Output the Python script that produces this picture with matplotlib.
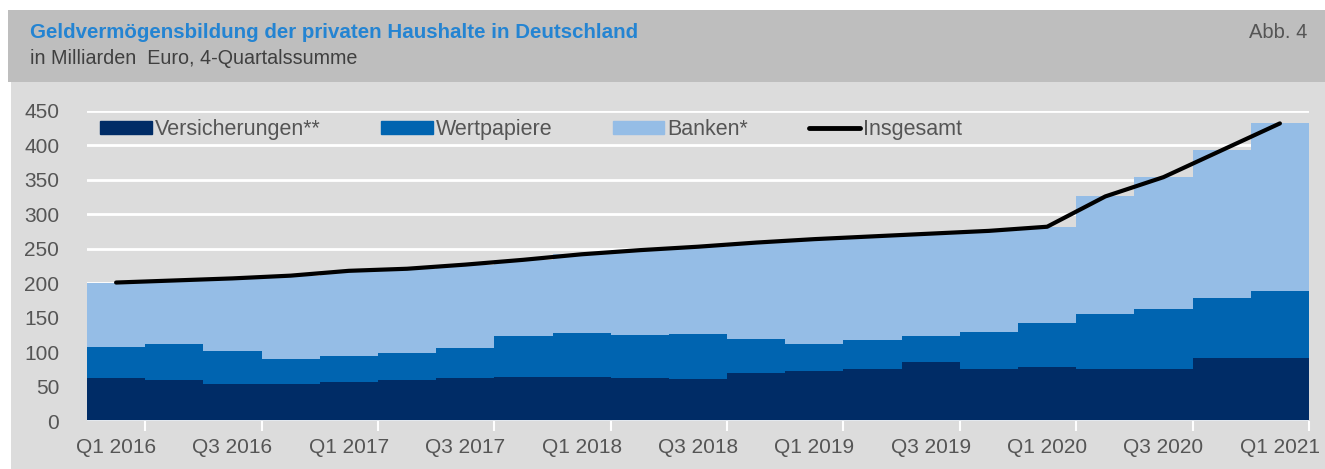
import matplotlib.pyplot as plt
import numpy as np
from matplotlib.patches import Rectangle
from matplotlib.lines import Line2D

plt.rcParams['font.family'] = ['Liberation Sans', 'DejaVu Sans']

## Data (billion euro, 4-quarter sums)
quarters = ['Q1 2016', 'Q2 2016', 'Q3 2016', 'Q4 2016',
            'Q1 2017', 'Q2 2017', 'Q3 2017', 'Q4 2017',
            'Q1 2018', 'Q2 2018', 'Q3 2018', 'Q4 2018',
            'Q1 2019', 'Q2 2019', 'Q3 2019', 'Q4 2019',
            'Q1 2020', 'Q2 2020', 'Q3 2020', 'Q4 2020',
            'Q1 2021']
versicherungen = [62, 60, 54, 54, 57, 59, 63, 64, 64, 63, 61,
                  69, 73, 75, 85, 75, 79, 75, 75, 91, 92]
wertpapiere = [46, 52, 48, 36, 37, 39, 43, 60, 64, 62, 66,
               50, 39, 42, 39, 54, 63, 81, 88, 88, 97]
banken = [93, 92, 105, 121, 124, 123, 121, 110, 114, 123, 126,
          140, 152, 151, 148, 147, 140, 170, 191, 214, 243]

c_vers = '#002c66'
c_wert = '#0064b0'
c_bank = '#95bde6'
c_text = '#555555'

x = np.arange(len(quarters))
vers = np.array(versicherungen)
wert = np.array(wertpapiere)
bank = np.array(banken)
total = vers + wert + bank

fig = plt.figure(figsize=(13.25, 4.69), dpi=100)
# header band and panel
fig.patches.append(Rectangle((8/1325, 387/469), 1317/1325, 72/469, transform=fig.transFigure,
                             facecolor='#bebebe', edgecolor='none', zorder=-2))
fig.patches.append(Rectangle((11/1325, 0), 1314/1325, 387/469, transform=fig.transFigure,
                             facecolor='#dcdcdc', edgecolor='none', zorder=-2))

fig.text(30/1325, 1-32/469, 'Geldvermögensbildung der privaten Haushalte in Deutschland',
         color='#2484d2', fontsize=14.8, fontweight='bold', va='center', ha='left')
fig.text(30/1325, 1-58/469, 'in Milliarden  Euro, 4-Quartalssumme',
         color='#404040', fontsize=14.2, va='center', ha='left')
fig.text(1307/1325, 1-32/469, 'Abb. 4', color='#555555', fontsize=14.5, va='center', ha='right')

ax = fig.add_axes([87/1325, 48/469, 1222/1325, 310/469])
ax.set_facecolor('none')

ax.bar(x, vers, width=1.0, color=c_vers, linewidth=0, zorder=2, label='Versicherungen**')
ax.bar(x, wert, width=1.0, bottom=vers, color=c_wert, linewidth=0, zorder=2, label='Wertpapiere')
ax.bar(x, bank, width=1.0, bottom=vers+wert, color=c_bank, linewidth=0, zorder=2, label='Banken*')
ax.plot(x, total, color='black', linewidth=3, solid_capstyle='round', zorder=4, label='Insgesamt')

ax.set_xlim(-0.5, len(quarters)-0.5)
ax.set_ylim(0, 450)
ax.set_yticks(np.arange(0, 451, 50))
ax.yaxis.grid(True, color='white', linewidth=2)
ax.set_axisbelow(True)
for s in ax.spines.values():
    s.set_visible(False)
ax.axhline(0, color='white', linewidth=2, zorder=3)

ax.set_xticks(x[::2])
ax.set_xticklabels(quarters[::2])
ax.set_xticks(np.arange(0.5, len(quarters), 2), minor=True)
ax.tick_params(axis='x', which='major', length=0, pad=12, labelsize=15, labelcolor=c_text)
ax.tick_params(axis='x', which='minor', length=7, width=1.5, color='white')
ax.tick_params(axis='y', length=0, pad=20, labelsize=15, labelcolor=c_text)

handles = [Rectangle((0, 0), 1, 1, color=c_vers), Rectangle((0, 0), 1, 1, color=c_wert),
           Rectangle((0, 0), 1, 1, color=c_bank),
           Line2D([], [], color='black', linewidth=3.5, solid_capstyle='round')]
labels = ['Versicherungen**', 'Wertpapiere', 'Banken*', 'Insgesamt']
leg = ax.legend(handles, labels, ncol=4, loc='center left', bbox_to_anchor=(0.0106, 0.939),
                frameon=False, fontsize=15.5, handlelength=2.4, handleheight=0.55,
                handletextpad=0.15, columnspacing=2.8, borderpad=0, borderaxespad=0,
                labelcolor=c_text)

plt.savefig('out.png', dpi=100)
